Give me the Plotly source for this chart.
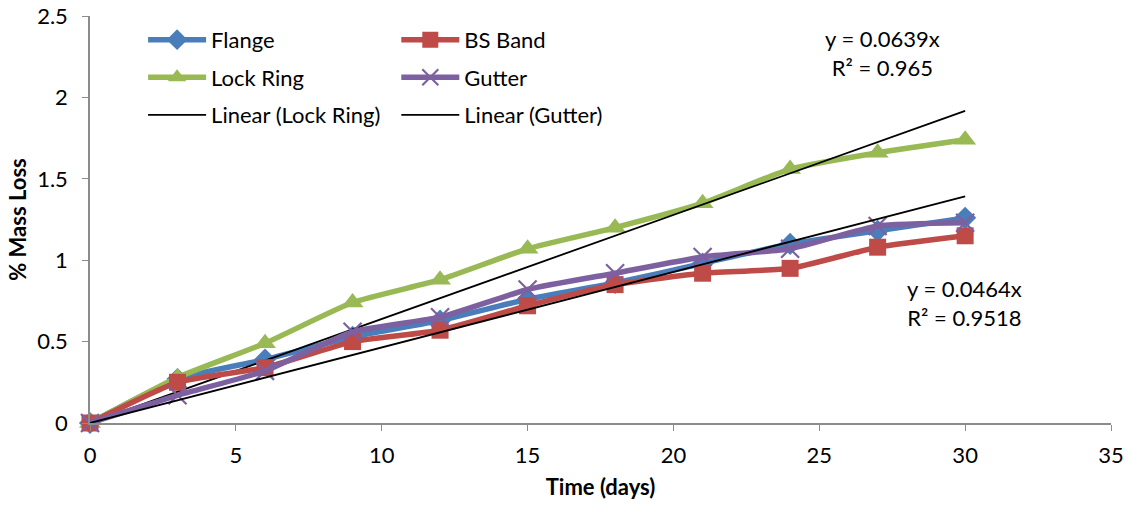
import plotly.graph_objects as go

# Sampling days and measured mass loss (%)
days = [0, 3, 6, 9, 12, 15, 18, 21, 24, 27, 30]
flange = [0, 0.27, 0.39, 0.53, 0.63, 0.76, 0.86, 0.98, 1.10, 1.18, 1.26]
bs_band = [0, 0.25, 0.34, 0.50, 0.57, 0.72, 0.85, 0.92, 0.95, 1.08, 1.15]
lock_ring = [0, 0.28, 0.49, 0.74, 0.88, 1.07, 1.20, 1.35, 1.56, 1.66, 1.74]
gutter = [0, 0.17, 0.32, 0.56, 0.65, 0.82, 0.92, 1.02, 1.07, 1.21, 1.23]

# Linear fits through the origin
slope_lock = 0.0639
r2_lock = 0.965
slope_gutter = 0.0464
r2_gutter = 0.9518
fit_x = [0, 30]

x_ticks = [0, 5, 10, 15, 20, 25, 30, 35]
y_ticks = [0, 0.5, 1, 1.5, 2, 2.5]

FONT = "Lato, 'Open Sans', sans-serif"
FS = 22
BLUE = "#4a7ebb"
RED = "#be4b48"
GREEN = "#98b954"
PURPLE = "#7d60a0"

fig = go.Figure()


def series(name, y, color, symbol, size, legend, group, mline=None):
    marker = dict(symbol=symbol, size=size, color=color)
    if mline:
        marker["line"] = mline
    fig.add_trace(go.Scatter(
        x=days, y=y, name=name, mode="lines+markers",
        line=dict(color=color, width=5.5, shape="spline", smoothing=0.5),
        marker=marker, cliponaxis=False,
        legend=legend, legendgroup=group,
    ))


series("Flange", flange, BLUE, "diamond", 17, "legend", "a")
series("Lock Ring", lock_ring, GREEN, "triangle-up", 19, "legend", "b")
fig.add_trace(go.Scatter(
    x=fit_x, y=[slope_lock * v for v in fit_x], name="Linear (Lock Ring)",
    mode="lines", line=dict(color="black", width=1.8),
    legend="legend", legendgroup="c",
))
series("BS Band", bs_band, RED, "square", 17, "legend2", "d")
series("Gutter", gutter, PURPLE, "x-thin", 18, "legend2", "e",
       mline=dict(color=PURPLE, width=2.2))
fig.add_trace(go.Scatter(
    x=fit_x, y=[slope_gutter * v for v in fit_x], name="Linear (Gutter)",
    mode="lines", line=dict(color="black", width=1.8),
    legend="legend2", legendgroup="f",
))

legend_style = dict(
    font=dict(family=FONT, size=FS, color="black"),
    bgcolor="rgba(0,0,0,0)", borderwidth=0,
    tracegroupgap=6, itemwidth=58, traceorder="grouped",
    xanchor="left", yanchor="top",
)

annot_font = dict(family=FONT, size=FS, color="black")

fig.update_layout(
    width=1129, height=506,
    margin=dict(l=90, r=18, t=16, b=83, autoexpand=False),
    paper_bgcolor="white", plot_bgcolor="white",
    font=dict(family=FONT, size=FS, color="black"),
    legend=dict(x=0.052, y=0.993, **legend_style),
    legend2=dict(x=0.300, y=0.993, **legend_style),
    xaxis=dict(
        range=[0, 35], tickvals=x_ticks, showgrid=False, zeroline=False,
        showline=True, linecolor="#8c8c8c", linewidth=1.5,
        ticks="outside", ticklen=6, tickcolor="#8c8c8c",
        ticklabelstandoff=6, automargin=False,
        tickfont=dict(family=FONT, size=FS),
        title=dict(text="<b>Time (days)</b>", font=dict(family=FONT, size=FS), standoff=12),
    ),
    yaxis=dict(
        range=[0, 2.5], tickvals=y_ticks, showgrid=False, zeroline=False,
        showline=True, linecolor="#8c8c8c", linewidth=1.5,
        ticks="outside", ticklen=6, tickcolor="#8c8c8c",
        ticklabelstandoff=10, automargin=False,
        tickfont=dict(family=FONT, size=FS),
        title=dict(text="<b>% Mass Loss</b>", font=dict(family=FONT, size=FS), standoff=4),
    ),
    annotations=[
        dict(x=0.776, y=0.982, xref="paper", yref="paper", xanchor="center", yanchor="top",
             text=f"y = {slope_lock}x<br>R² = {r2_lock}", showarrow=False,
             font=annot_font, align="center"),
        dict(x=0.857, y=0.368, xref="paper", yref="paper", xanchor="center", yanchor="top",
             text=f"y = {slope_gutter}x<br>R² = {r2_gutter}", showarrow=False,
             font=annot_font, align="center"),
    ],
)

fig.write_html("out.html")
